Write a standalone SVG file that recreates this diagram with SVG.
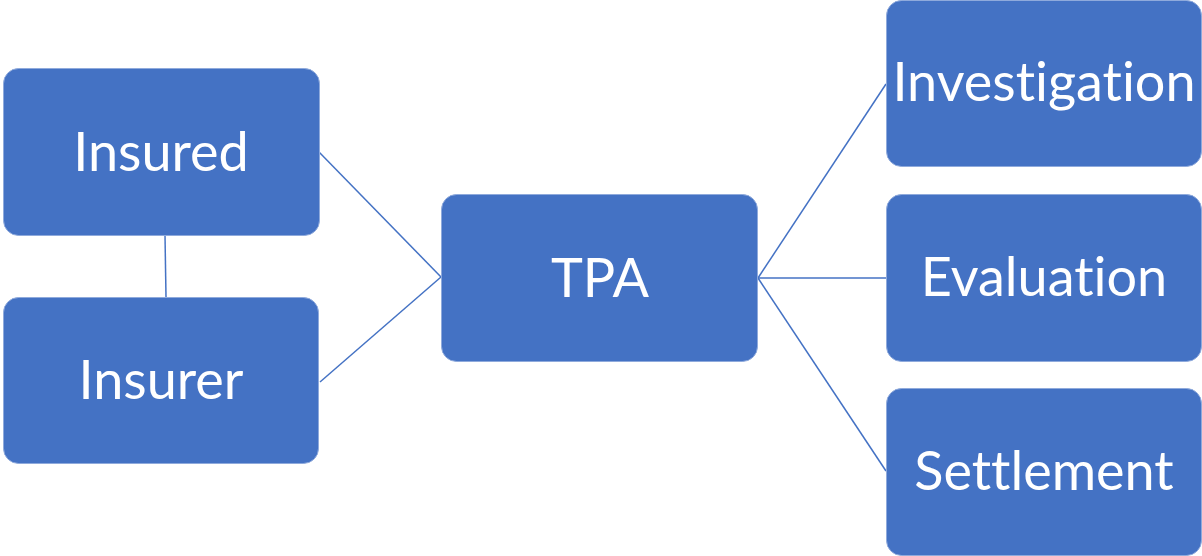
<svg xmlns="http://www.w3.org/2000/svg" width="1202" height="556" viewBox="0 0 1202 556">
  <style>
    .box { fill: #4472C4; stroke: #8FAADC; stroke-width: 1; }
    .label { fill: #FFFFFF; font-family: Lato, "Open Sans", "Liberation Sans", sans-serif; font-size: 54px; text-anchor: middle; font-variant-ligatures: none; }
    .link { stroke: #4472C4; stroke-width: 1.5; fill: none; }
  </style>
  <rect width="1202" height="556" fill="#FFFFFF"/>
  <g id="connectors">
    <line class="link" x1="165" y1="235" x2="166" y2="297"/>
    <line class="link" x1="319" y1="152" x2="441" y2="277"/>
    <line class="link" x1="320" y1="382" x2="441" y2="277"/>
    <line class="link" x1="758" y1="278" x2="886" y2="84"/>
    <line class="link" x1="758" y1="278" x2="886" y2="278"/>
    <line class="link" x1="758" y1="278" x2="886" y2="471"/>
  </g>
  <g id="insured">
    <rect class="box" x="3.5" y="68.5" width="316" height="167" rx="15"/>
    <text class="label" x="161" y="171">Insured</text>
  </g>
  <g id="insurer">
    <rect class="box" x="3.5" y="297.5" width="315" height="166" rx="15"/>
    <text class="label" x="161" y="399">Insurer</text>
  </g>
  <g id="tpa">
    <rect class="box" x="441.5" y="194.5" width="316" height="167" rx="15"/>
    <text class="label" x="600" y="297">TPA</text>
  </g>
  <g id="investigation">
    <rect class="box" x="886.5" y="0.5" width="315" height="166" rx="15"/>
    <text class="label" x="1044" y="101">Investigation</text>
  </g>
  <g id="evaluation">
    <rect class="box" x="886.5" y="194.5" width="315" height="167" rx="15"/>
    <text class="label" x="1044" y="296">Evaluation</text>
  </g>
  <g id="settlement">
    <rect class="box" x="886.5" y="388.5" width="315" height="167" rx="15"/>
    <text class="label" x="1044" y="490">Settlement</text>
  </g>
</svg>
